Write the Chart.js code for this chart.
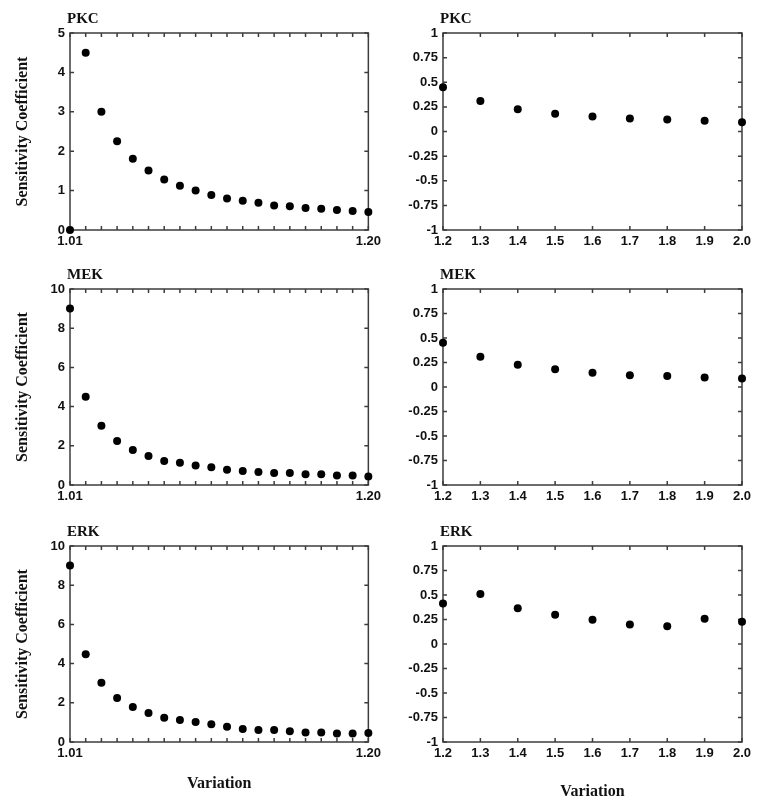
<!DOCTYPE html>
<html>
<head>
<meta charset="utf-8">
<script src="https://cdn.jsdelivr.net/npm/chart.js@4.4.0/dist/chart.umd.min.js"></script>
<style>
  body { margin: 0; background: #fff; }
  #wrap { position: relative; width: 770px; height: 808px; }
  canvas { position: absolute; }
</style>
</head>
<body>
<div id="wrap">
  <canvas id="pkcFine" width="385" height="260" style="left:0;top:0"></canvas>
  <canvas id="pkcCoarse" width="385" height="260" style="left:385px;top:0"></canvas>
  <canvas id="mekFine" width="385" height="260" style="left:0;top:260px"></canvas>
  <canvas id="mekCoarse" width="385" height="260" style="left:385px;top:260px"></canvas>
  <canvas id="erkFine" width="385" height="288" style="left:0;top:520px"></canvas>
  <canvas id="erkCoarse" width="385" height="288" style="left:385px;top:520px"></canvas>
</div>
<script>
// variation values (x)
const xFine = [1.01, 1.02, 1.03, 1.04, 1.05, 1.06, 1.07, 1.08, 1.09, 1.10,
               1.11, 1.12, 1.13, 1.14, 1.15, 1.16, 1.17, 1.18, 1.19, 1.20];
const xCoarse = [1.2, 1.3, 1.4, 1.5, 1.6, 1.7, 1.8, 1.9, 2.0];

// sensitivity coefficients, small variation
const pkcFine = [0, 4.5, 3.0, 2.25, 1.81, 1.51, 1.28, 1.12, 1.0, 0.89,
                 0.8, 0.74, 0.69, 0.62, 0.6, 0.56, 0.54, 0.51, 0.48, 0.46];
const mekFine = [9.0, 4.5, 3.02, 2.25, 1.79, 1.48, 1.23, 1.14, 1.0, 0.9,
                 0.78, 0.72, 0.66, 0.61, 0.61, 0.55, 0.55, 0.49, 0.49, 0.43];
const erkFine = [9.0, 4.48, 3.02, 2.25, 1.79, 1.48, 1.24, 1.12, 1.02, 0.9,
                 0.78, 0.66, 0.61, 0.61, 0.55, 0.49, 0.49, 0.44, 0.44, 0.46];

// sensitivity coefficients, large variation
const pkcCoarse = [0.45, 0.31, 0.227, 0.179, 0.152, 0.131, 0.121, 0.11, 0.094];
const mekCoarse = [0.451, 0.308, 0.227, 0.182, 0.145, 0.121, 0.111, 0.097, 0.087];
const erkCoarse = [0.414, 0.509, 0.366, 0.298, 0.247, 0.2, 0.18, 0.257, 0.227];

const tickFont = { family: "'Liberation Sans', Arial, sans-serif", size: 13, weight: "bold" };
const serif = "'Liberation Serif', 'Times New Roman', serif";
const frameColor = "#3c3c3c";

// box + inward ticks on all four sides, panel title
const framePlugin = {
  id: "frame",
  beforeDatasetsDraw(chart, args, opts) {
    const { ctx, chartArea: a, scales: { x, y } } = chart;
    const L = 4;
    ctx.save();
    ctx.strokeStyle = frameColor;
    ctx.lineWidth = 1.5;
    ctx.strokeRect(a.left, a.top, a.right - a.left, a.bottom - a.top);
    ctx.beginPath();
    x.ticks.forEach(t => {
      const px = x.getPixelForValue(t.value);
      ctx.moveTo(px, a.bottom); ctx.lineTo(px, a.bottom - L);
      ctx.moveTo(px, a.top); ctx.lineTo(px, a.top + L);
    });
    y.ticks.forEach(t => {
      const py = y.getPixelForValue(t.value);
      ctx.moveTo(a.left, py); ctx.lineTo(a.left + L, py);
      ctx.moveTo(a.right, py); ctx.lineTo(a.right - L, py);
    });
    ctx.stroke();
    ctx.restore();
  },
  afterDraw(chart, args, opts) {
    const { ctx, chartArea: a } = chart;
    ctx.save();
    ctx.fillStyle = "#111";
    ctx.font = "bold 15px " + serif;
    ctx.textAlign = "left";
    ctx.textBaseline = "middle";
    ctx.fillText(opts.title, a.left - 3, a.top - 14);
    ctx.restore();
  }
};

function makePanel(id, title, xs, ys, cfg) {
  const fine = cfg.fine;
  const last = cfg.last;
  new Chart(document.getElementById(id), {
    type: "scatter",
    data: {
      datasets: [{
        data: xs.map((v, i) => ({ x: v, y: ys[i] })),
        backgroundColor: "#000",
        borderWidth: 0,
        pointRadius: 4,
        clip: false
      }]
    },
    options: {
      responsive: false,
      animation: false,
      layout: {
        autoPadding: false,
        padding: { left: 0, right: cfg.padRight, top: cfg.padTop, bottom: cfg.padBottom }
      },
      plugins: {
        legend: { display: false },
        tooltip: { enabled: false },
        frame: { title: title }
      },
      scales: {
        x: {
          type: "linear",
          min: fine ? 1.01 : 1.2,
          max: fine ? 1.20 : 2.0,
          grid: { display: false, drawTicks: false },
          border: { display: false },
          ticks: {
            stepSize: fine ? 0.01 : 0.1,
            maxTicksLimit: 100,
            autoSkip: false,
            maxRotation: 0,
            padding: 4,
            color: "#111",
            font: tickFont,
            callback: (v, i, ticks) => {
              if (!fine) return v.toFixed(1);
              return (i === 0 || i === ticks.length - 1) ? v.toFixed(2) : "";
            }
          },
          title: {
            display: last,
            text: "Variation",
            color: "#111",
            font: { family: serif, size: 16, weight: "bold" },
            padding: { top: 0, bottom: cfg.varPad }
          },
          afterFit: s => { s.height = cfg.xHeight; }
        },
        y: {
          min: cfg.yMin,
          max: cfg.yMax,
          grid: { display: false, drawTicks: false },
          border: { display: false },
          ticks: {
            stepSize: cfg.yStep,
            padding: 5,
            color: "#111",
            font: tickFont,
            callback: v => String(+v.toFixed(2))
          },
          title: {
            display: fine,
            text: "Sensitivity Coefficient",
            color: "#111",
            font: { family: serif, size: 16, weight: "bold" },
            padding: { top: 13, bottom: 0 }
          },
          afterFit: s => { s.width = cfg.yWidth; }
        }
      }
    },
    plugins: [framePlugin]
  });
}

const leftCol = { fine: true, padRight: 16, yWidth: 70 };
const rightCol = { fine: false, padRight: 28, yWidth: 58, yMin: -1, yMax: 1, yStep: 0.25 };
const row1 = { padTop: 33, padBottom: 10, xHeight: 20, last: false };
const row2 = { padTop: 29, padBottom: 15, xHeight: 20, last: false };
const row3 = { padTop: 26, padBottom: 4, xHeight: 62, last: true };

makePanel("pkcFine", "PKC", xFine, pkcFine, { ...leftCol, ...row1, yMin: 0, yMax: 5, yStep: 1 });
makePanel("mekFine", "MEK", xFine, mekFine, { ...leftCol, ...row2, yMin: 0, yMax: 10, yStep: 2 });
makePanel("erkFine", "ERK", xFine, erkFine, { ...leftCol, ...row3, yMin: 0, yMax: 10, yStep: 2, varPad: 11 });
makePanel("pkcCoarse", "PKC", xCoarse, pkcCoarse, { ...rightCol, ...row1 });
makePanel("mekCoarse", "MEK", xCoarse, mekCoarse, { ...rightCol, ...row2 });
makePanel("erkCoarse", "ERK", xCoarse, erkCoarse, { ...rightCol, ...row3, varPad: 3 });
</script>
</body>
</html>
